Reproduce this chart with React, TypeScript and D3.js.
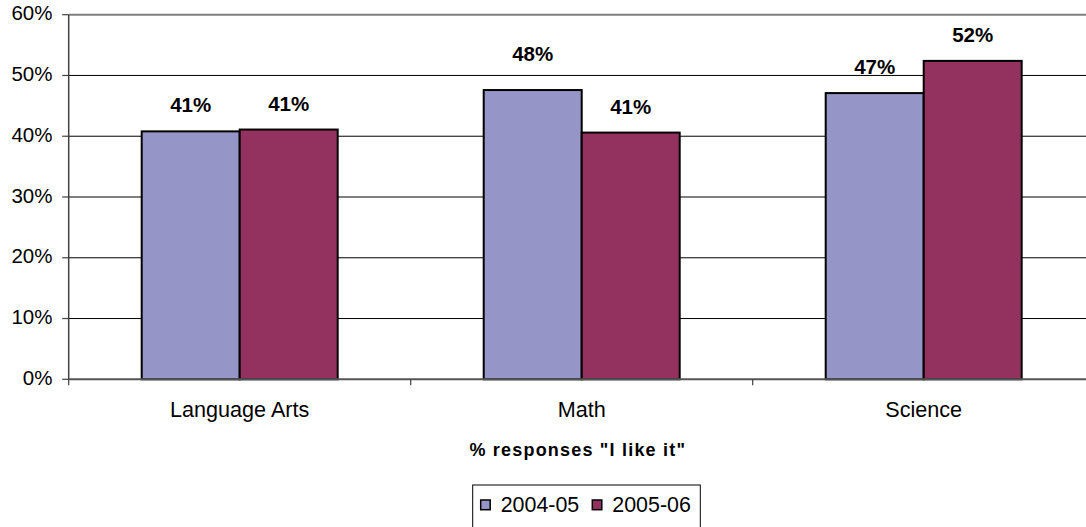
import React from "react";
import * as d3 from "d3";

// Share of students answering "I like it", by subject and school year
const subjects = ["Language Arts", "Math", "Science"];
const years = ["2004-05", "2005-06"];
const values2004 = [0.408, 0.476, 0.471];
const values2005 = [0.411, 0.406, 0.524];
const yTicks = [0, 0.1, 0.2, 0.3, 0.4, 0.5, 0.6];
const axisTitle = '% responses "I like it"';

const W = 1086;
const H = 527;
const FONT = "Arial, 'Liberation Sans', Helvetica, sans-serif";
const colors: Record<string, string> = { "2004-05": "#9595C7", "2005-06": "#93325F" };

export default function App() {
  const left = 68.7;
  const right = 1094.7;
  const top = 14.7;
  const bottom = 379.3;

  const x = d3.scaleBand<string>().domain(subjects).range([left, right]).paddingInner(0).paddingOuter(0);
  const xs = d3.scaleBand<string>().domain(years).range([0, x.bandwidth()]).paddingInner(0).paddingOuter(0.745);
  const y = d3.scaleLinear().domain([0, 0.6]).range([bottom, top]);
  const pct = d3.format(".0%");

  const rows = subjects.map((s, i) => ({
    subject: s,
    vals: [
      { year: years[0], v: values2004[i] },
      { year: years[1], v: values2005[i] },
    ],
  }));

  // small vertical nudge for labels that sit higher above their bar
  const labelLift = (subject: string, year: string) => (subject === "Math" && year === "2004-05" ? 29 : 19);

  const boundaries = [...subjects.map((s) => x(s)!), right];

  return (
    <svg
      width={W}
      height={H}
      style={{ position: "absolute", left: 0, top: 0, background: "#fff" }}
      fontFamily={FONT}
    >
      {/* gridlines */}
      {yTicks.slice(1, -1).map((t) => (
        <line key={t} x1={left} x2={right} y1={y(t)} y2={y(t)} stroke="#000" strokeWidth={1} />
      ))}
      <line x1={left} x2={right} y1={y(0.6)} y2={y(0.6)} stroke="#808080" strokeWidth={2} />

      {/* bars */}
      {rows.map((r) =>
        r.vals.map((d) => (
          <rect
            key={r.subject + d.year}
            x={x(r.subject)! + xs(d.year)!}
            y={y(d.v)}
            width={xs.bandwidth()}
            height={y(0) - y(d.v)}
            fill={colors[d.year]}
            stroke="#000"
            strokeWidth={2}
          />
        ))
      )}

      {/* value labels */}
      {rows.map((r) =>
        r.vals.map((d) => (
          <text
            key={"l" + r.subject + d.year}
            x={x(r.subject)! + xs(d.year)! + xs.bandwidth() / 2}
            y={y(d.v) - labelLift(r.subject, d.year)}
            textAnchor="middle"
            fontWeight="bold"
            fontSize={20.5}
            fill="#000"
          >
            {pct(d.v)}
          </text>
        ))
      )}

      {/* axes */}
      <line x1={left} x2={left} y1={top} y2={bottom} stroke="#404040" strokeWidth={1.5} />
      <line x1={left} x2={right} y1={bottom} y2={bottom} stroke="#555" strokeWidth={2} />
      {yTicks.map((t) => (
        <g key={"yt" + t}>
          <line x1={left - 6.5} x2={left} y1={y(t)} y2={y(t)} stroke="#404040" strokeWidth={1.2} />
          <text x={52.5} y={y(t) + 5.5} textAnchor="end" fontSize={20.5} fill="#000">
            {pct(t)}
          </text>
        </g>
      ))}
      {boundaries.map((b, i) => (
        <line key={"xt" + i} x1={b} x2={b} y1={bottom} y2={bottom + 6} stroke="#404040" strokeWidth={1.2} />
      ))}
      {subjects.map((s) => (
        <text key={"c" + s} x={x(s)! + x.bandwidth() / 2} y={417.3} textAnchor="middle" fontSize={21.6} fill="#000">
          {s}
        </text>
      ))}

      {/* axis title */}
      <text
        x={577.8}
        y={456.3}
        textAnchor="middle"
        fontWeight="bold"
        fontSize={18}
        letterSpacing={1.2}
        fill="#000"
      >
        {axisTitle}
      </text>

      {/* legend */}
      <rect x={472.7} y={485} width={227.6} height={48} fill="#fff" stroke="#000" strokeWidth={1} />
      {years.map((yr, i) => {
        const sx = [480.7, 592.3][i];
        return (
          <g key={"lg" + yr}>
            <rect x={sx} y={500} width={9.5} height={9.7} fill={colors[yr]} stroke="#000" strokeWidth={1.5} />
            <text x={sx + 20} y={512.3} fontSize={21.4} fill="#000">
              {yr}
            </text>
          </g>
        );
      })}
    </svg>
  );
}
